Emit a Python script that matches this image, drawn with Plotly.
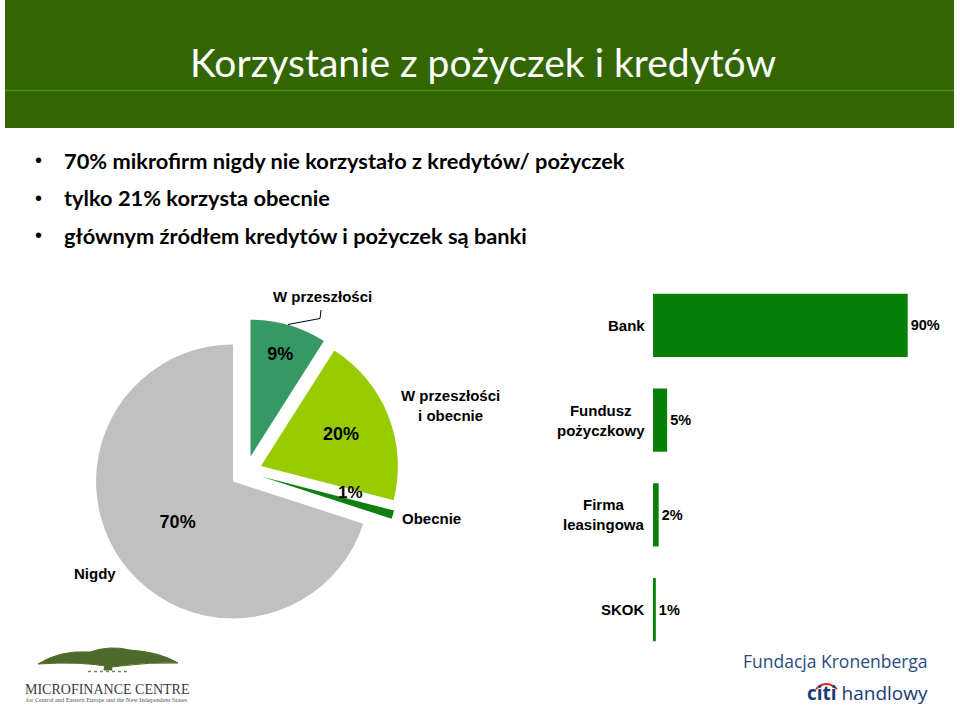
import plotly.graph_objects as go

W, H = 960, 706

# ---------------- data ----------------
title_text = "Korzystanie z pożyczek i kredytów"
bullets = [
    "70% mikrofirm nigdy nie korzystało z kredytów/ pożyczek",
    "tylko 21% korzysta obecnie",
    "głównym źródłem kredytów i pożyczek są banki",
]

pie_labels = ["W przeszłości", "W przeszłości<br>i obecnie", "Obecnie", "Nigdy"]
pie_values = [9, 20, 1, 70]
pie_colors = ["#369964", "#99cc00", "#0f800f", "#c0c0c0"]

bar_categories = ["Bank", "Fundusz<br>pożyczkowy", "Firma<br>leasingowa", "SKOK"]
bar_values = [90, 5, 2, 1]
bar_color = "#078007"


def px(x):
    return x / W


def py(y):
    return 1 - y / H


fig = go.Figure()

# ---------------- pie ----------------
fig.add_trace(go.Pie(
    labels=pie_labels,
    values=pie_values,
    sort=False,
    direction="clockwise",
    rotation=0,
    pull=[0.117] * 4,
    marker=dict(colors=pie_colors, line=dict(width=0)),
    texttemplate="%{value}%",
    textposition=["inside", "inside", "none", "inside"],
    insidetextorientation="horizontal",
    textfont=dict(family="Liberation Sans", size=18, color="#000000", weight="bold"),
    domain=dict(x=[px(93), px(399)], y=[py(625), py(319)]),
    showlegend=False,
    hoverinfo="label+percent",
))

# ---------------- bars ----------------
fig.add_trace(go.Bar(
    x=bar_values,
    y=bar_categories,
    orientation="h",
    marker=dict(color=bar_color, line=dict(width=0)),
    texttemplate="%{x}%",
    textposition="outside",
    textfont=dict(family="Liberation Sans", size=14.5, color="#000000", weight="bold"),
    cliponaxis=False,
    xaxis="x2",
    yaxis="y2",
    showlegend=False,
))

annotations = []
shapes = []

# title bar
shapes.append(dict(type="rect", xref="paper", yref="paper",
                   x0=px(5), x1=px(954), y0=py(128), y1=py(0),
                   fillcolor="#336600", line=dict(width=0), layer="below"))
shapes.append(dict(type="line", xref="paper", yref="paper",
                   x0=px(5), x1=px(954), y0=py(90.5), y1=py(90.5),
                   line=dict(color="#4e8a1c", width=1.5)))
annotations.append(dict(text=title_text, xref="paper", yref="paper",
                        x=px(483), y=py(62), xanchor="center", yanchor="middle",
                        showarrow=False,
                        font=dict(family="Lato", size=39, color="#ffffff")))

# bullets
for i, b in enumerate(bullets):
    yy = 160 + i * 37.5
    annotations.append(dict(text="•", xref="paper", yref="paper",
                            x=px(38), y=py(yy), xanchor="center", yanchor="middle",
                            showarrow=False,
                            font=dict(family="Liberation Sans", size=20, color="#000000")))
    annotations.append(dict(text=b, xref="paper", yref="paper",
                            x=px(62), y=py(yy), xanchor="left", yanchor="middle",
                            showarrow=False,
                            font=dict(family="Lato", size=21.8, color="#000000", weight="bold")))

# pie category labels
pie_label_pos = [(322, 296), (450, 405), (431, 518), (95, 573)]
for lab, (x, y) in zip(pie_labels, pie_label_pos):
    annotations.append(dict(text=lab, xref="paper", yref="paper",
                            x=px(x), y=py(y), xanchor="center", yanchor="middle",
                            align="center", showarrow=False,
                            font=dict(family="Liberation Sans", size=15, color="#000000", weight="bold")))
# small-slice percentage
annotations.append(dict(text=f"{pie_values[2]}%", xref="paper", yref="paper",
                        x=px(350), y=py(493), xanchor="center", yanchor="middle",
                        showarrow=False,
                        font=dict(family="Liberation Sans", size=17, color="#000000", weight="bold")))
# leader line
shapes.append(dict(type="path", xref="paper", yref="paper",
                   path=f"M {px(288)},{py(324.5)} L {px(320)},{py(318.5)} L {px(321)},{py(310)}",
                   line=dict(color="#000000", width=1)))

# bar category labels
for cat in bar_categories:
    annotations.append(dict(text=cat, xref="x2", yref="y2", x=0, y=cat,
                            xanchor="right", yanchor="middle", xshift=-6,
                            align="center", showarrow=False,
                            font=dict(family="Liberation Sans", size=15, color="#000000", weight="bold")))

# ---------------- logos (text approximations) ----------------
# tree canopy
shapes.append(dict(type="path", xref="paper", yref="paper",
                   path=(f"M {px(38)},{py(664)} Q {px(60)},{py(650)} {px(90)},{py(652)} "
                         f"Q {px(110)},{py(645)} {px(130)},{py(650)} Q {px(160)},{py(652)} {px(178)},{py(663)} "
                         f"Q {px(150)},{py(662)} {px(120)},{py(666)} L {px(112)},{py(667)} "
                         f"Q {px(80)},{py(661)} {px(38)},{py(664)} Z"),
                   fillcolor="#4f6b2c", line=dict(color="#4f6b2c", width=1)))
shapes.append(dict(type="path", xref="paper", yref="paper",
                   path=(f"M {px(106)},{py(660)} L {px(104)},{py(670)} L {px(112)},{py(670)} L {px(110)},{py(660)} Z"),
                   fillcolor="#4f6b2c", line=dict(color="#4f6b2c", width=1)))
shapes.append(dict(type="line", xref="paper", yref="paper",
                   x0=px(88), x1=px(130), y0=py(671.5), y1=py(671.5),
                   line=dict(color="#6f8a4c", width=1.5, dash="dot")))
annotations.append(dict(text="MICROFINANCE CENTRE", xref="paper", yref="paper",
                        x=px(107), y=py(689), xanchor="center", yanchor="middle",
                        showarrow=False,
                        font=dict(family="Liberation Serif", size=14, color="#3a3a3a")))
annotations.append(dict(text="for Central and Eastern Europe and the New Independent States",
                        xref="paper", yref="paper",
                        x=px(107), y=py(699), xanchor="center", yanchor="middle",
                        showarrow=False,
                        font=dict(family="Liberation Serif", size=6.3, color="#555555")))

annotations.append(dict(text="Fundacja Kronenberga", xref="paper", yref="paper",
                        x=px(930), y=py(661), xanchor="right", yanchor="middle",
                        showarrow=False,
                        font=dict(family="Open Sans", size=17.5, color="#2a4b7c")))
annotations.append(dict(text="<b>citi</b> handlowy", xref="paper", yref="paper",
                        x=px(930), y=py(693), xanchor="right", yanchor="middle",
                        showarrow=False,
                        font=dict(family="Open Sans", size=19, color="#1b3a78")))
shapes.append(dict(type="path", xref="paper", yref="paper",
                   path=f"M {px(816)},{py(689)} Q {px(826)},{py(679)} {px(837)},{py(689)}",
                   line=dict(color="#e0282e", width=2)))

fig.update_layout(
    width=W, height=H,
    margin=dict(l=0, r=0, t=0, b=0),
    paper_bgcolor="#ffffff",
    plot_bgcolor="rgba(0,0,0,0)",
    bargap=0.333,
    xaxis2=dict(domain=[px(653), px(936)], range=[0, 100], visible=False,
                anchor="y2", fixedrange=True),
    yaxis2=dict(domain=[py(657), py(278)], autorange="reversed", visible=False,
                anchor="x2", type="category", categoryorder="array",
                categoryarray=bar_categories, fixedrange=True),
    annotations=annotations,
    shapes=shapes,
)

fig.write_html("out.html")
